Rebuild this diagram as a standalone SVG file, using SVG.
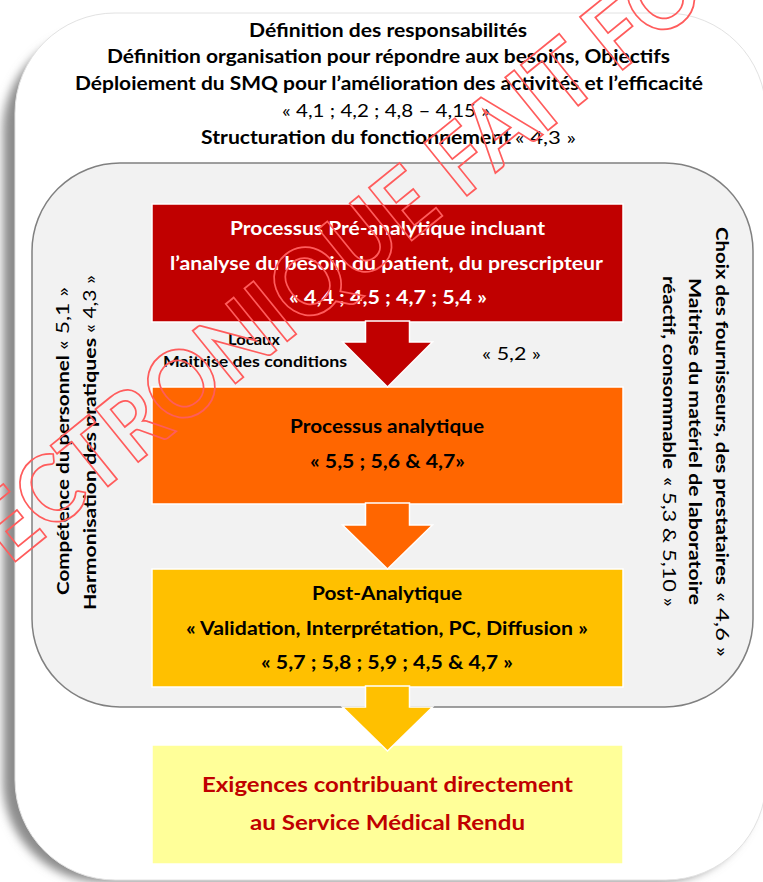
<svg xmlns="http://www.w3.org/2000/svg" width="763" height="882" viewBox="0 0 763 882">
  <defs>
    <filter id="soft" x="-10%" y="-10%" width="120%" height="120%">
      <feGaussianBlur stdDeviation="5"/>
    </filter>
    <style>
      .b { font-family: Lato, "Liberation Sans", sans-serif; font-weight: 700; }
      .r { font-family: Lato, "Liberation Sans", sans-serif; font-weight: 400; }
      .t17 { font-size: 18px; fill: #000; }
      .wht { fill: #ffffff; font-size: 18px; }
      .blk { fill: #000000; font-size: 18px; }
      .red { fill: #c00000; font-size: 21px; }
      .lbl { fill: #000000; font-size: 15px; }
      .side { fill: #000000; font-size: 17px; }
      .box { stroke: #ffffff; stroke-width: 1.5; }
      .arrow { stroke: #ffffff; stroke-width: 1.5; stroke-linejoin: miter; }
      .wm { font-family: Lato, "Liberation Sans", sans-serif; font-weight: 700; font-size: 94px; fill: none; stroke: #ff5c5c; stroke-width: 1.8; }
    </style>
  </defs>

  <!-- outer frame with soft shadow -->
  <g id="frame">
    <rect x="3" y="30" width="755" height="852" rx="100" fill="#8c8c8c" filter="url(#soft)"/>
    <rect x="15" y="13" width="751" height="867" rx="100" fill="#ffffff" stroke="#e2e2e2" stroke-width="1"/>
  </g>

  <!-- management requirements text -->
  <g id="management">
    <text class="b t17" x="249" y="37" textLength="278" lengthAdjust="spacingAndGlyphs">Définition des responsabilités</text>
    <text class="b t17" x="107" y="63" textLength="563" lengthAdjust="spacingAndGlyphs">Définition organisation pour répondre aux besoins, Objectifs</text>
    <text class="b t17" x="75" y="90" textLength="628" lengthAdjust="spacingAndGlyphs">Déploiement du SMQ pour l’amélioration des activités et l’efficacité</text>
    <text class="r t17" x="282" y="117" textLength="208" lengthAdjust="spacingAndGlyphs">« 4,1 ; 4,2 ; 4,8 – 4,15 »</text>
    <text class="b t17" x="201" y="144" textLength="310" lengthAdjust="spacingAndGlyphs">Structuration du fonctionnement</text>
    <text class="r t17" x="515" y="144" textLength="61" lengthAdjust="spacingAndGlyphs">« 4,3 »</text>
  </g>

  <!-- support area -->
  <g id="support">
    <rect x="32" y="163" width="721" height="544" rx="88" fill="#f2f2f2" stroke="#808080" stroke-width="1.5"/>
  </g>

  <!-- left side: personnel -->
  <g id="personnel" transform="rotate(-90)">
    <text class="b side" x="-595" y="69" textLength="240" lengthAdjust="spacingAndGlyphs">Compétence du personnel</text>
    <text class="r side" x="-350" y="69" textLength="63" lengthAdjust="spacingAndGlyphs">« 5,1 »</text>
    <text class="b side" x="-610" y="96" textLength="272" lengthAdjust="spacingAndGlyphs">Harmonisation des pratiques</text>
    <text class="r side" x="-333" y="96" textLength="58" lengthAdjust="spacingAndGlyphs">« 4,3 »</text>
  </g>

  <!-- right side: suppliers and equipment -->
  <g id="suppliers" transform="rotate(90)">
    <text class="b side" x="227" y="-716" textLength="358" lengthAdjust="spacingAndGlyphs">Choix des fournisseurs, des prestataires</text>
    <text class="r side" x="592" y="-716" textLength="65" lengthAdjust="spacingAndGlyphs">« 4,6 »</text>
    <text class="b side" x="278" y="-689" textLength="327" lengthAdjust="spacingAndGlyphs">Maitrise du matériel de laboratoire</text>
    <text class="b side" x="276" y="-663" textLength="193" lengthAdjust="spacingAndGlyphs">réactif, consommable</text>
    <text class="r side" x="477" y="-663" textLength="130" lengthAdjust="spacingAndGlyphs">« 5,3 &amp; 5,10 »</text>
  </g>

  <!-- premises / conditions -->
  <g id="premises">
    <text class="b lbl" x="228" y="345" textLength="52" lengthAdjust="spacingAndGlyphs">Locaux</text>
    <text class="b lbl" x="163" y="367" textLength="184" lengthAdjust="spacingAndGlyphs">Maitrise des conditions</text>
    <text class="r side" x="482" y="360" textLength="59" lengthAdjust="spacingAndGlyphs">« 5,2 »</text>
  </g>

  <!-- process boxes -->
  <g id="pre-analytique">
    <rect class="box" x="152" y="204" width="471" height="118" fill="#c00000"/>
    <text class="b wht" x="230" y="235" textLength="315" lengthAdjust="spacingAndGlyphs">Processus Pré-analytique incluant</text>
    <text class="b wht" x="170" y="270" textLength="433" lengthAdjust="spacingAndGlyphs">l’analyse du besoin du patient, du prescripteur</text>
    <text class="b wht" x="289" y="304" textLength="198" lengthAdjust="spacingAndGlyphs">« 4,4 ; 4,5 ; 4,7 ; 5,4 »</text>
  </g>

  <g id="analytique">
    <rect class="box" x="152" y="387" width="471" height="117" fill="#ff6600"/>
    <text class="b blk" x="290" y="433" textLength="194" lengthAdjust="spacingAndGlyphs">Processus analytique</text>
    <text class="b blk" x="310" y="468" textLength="155" lengthAdjust="spacingAndGlyphs">« 5,5 ; 5,6 &amp; 4,7»</text>
  </g>

  <g id="post-analytique">
    <rect class="box" x="152" y="569" width="471" height="118" fill="#ffc000"/>
    <text class="b blk" x="312" y="600" textLength="150" lengthAdjust="spacingAndGlyphs">Post-Analytique</text>
    <text class="b blk" x="186" y="635" textLength="402" lengthAdjust="spacingAndGlyphs">« Validation, Interprétation, PC, Diffusion »</text>
    <text class="b blk" x="261" y="669" textLength="252" lengthAdjust="spacingAndGlyphs">« 5,7 ; 5,8 ; 5,9 ; 4,5 &amp; 4,7 »</text>
  </g>

  <g id="service-rendu">
    <rect class="box" x="152" y="745" width="471" height="119" fill="#ffff99"/>
    <text class="b red" x="202" y="792" textLength="371" lengthAdjust="spacingAndGlyphs">Exigences contribuant directement</text>
    <text class="b red" x="250" y="830" textLength="275" lengthAdjust="spacingAndGlyphs">au Service Médical Rendu</text>
  </g>

  <!-- connectors: block arrows between stages -->
  <g id="connectors">
    <polygon class="arrow" fill="#c00000" points="365.5,321 409.5,321 409.5,342 432.5,342 387.5,387 342.5,342 365.5,342"/>
    <polygon class="arrow" fill="#ff6600" points="365.5,503 409.5,503 409.5,525 432.5,525 387.5,569 342.5,525 365.5,525"/>
    <polygon class="arrow" fill="#ffc000" points="365.5,686 409.5,686 409.5,707 432.5,707 387.5,751 342.5,707 365.5,707"/>
  </g>

  <!-- document stamp -->
  <g id="stamp">
    <text class="wm" transform="translate(10,566) rotate(-39)" x="0" y="0" textLength="900" lengthAdjust="spacingAndGlyphs">ECTRONIQUE FAIT FO</text>
  </g>
</svg>
